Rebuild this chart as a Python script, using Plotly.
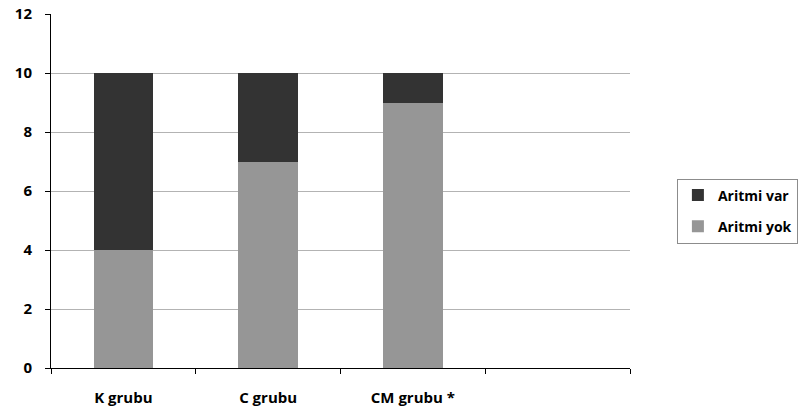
import plotly.graph_objects as go

categories = ["K grubu", "C grubu", "CM grubu *", " "]
aritmi_yok = [4, 7, 9, None]
aritmi_var = [6, 3, 1, None]
y_ticks = [0, 2, 4, 6, 8, 10, 12]

FAM = "Open Sans, Lato, sans-serif"
font = dict(family=FAM, size=14, color="black")

fig = go.Figure()
fig.add_trace(go.Bar(x=categories, y=aritmi_yok, name="<b>Aritmi yok</b>", legendgroup="a",
                     legendrank=2,
                     marker=dict(color="#969696", line=dict(width=0))))
fig.add_trace(go.Bar(x=categories, y=aritmi_var, name="<b>Aritmi var</b>", legendgroup="b",
                     legendrank=1,
                     marker=dict(color="#333333", line=dict(width=0))))

fig.update_layout(
    width=806, height=416,
    margin=dict(l=51, r=176, t=14, b=48, autoexpand=False),
    barmode="stack", bargap=0.59,
    plot_bgcolor="white", paper_bgcolor="white",
    font=font,
    showlegend=True,
    legend=dict(traceorder="grouped", x=1.081, xanchor="left", y=0.4435, yanchor="middle",
                bordercolor="#8c8c8c", borderwidth=1, bgcolor="white",
                font=dict(family=FAM, size=14),
                itemwidth=30, tracegroupgap=10),
)
fig.update_xaxes(
    type="category", categoryorder="array", categoryarray=categories,
    range=[-0.5, 3.5], tickson="boundaries", automargin=False,
    ticks="outside", ticklen=5, tickcolor="black",
    showline=True, linecolor="black", linewidth=1,
    showgrid=False, ticklabelstandoff=16,
    tickfont=dict(size=15),
    tickvals=categories, ticktext=["<b>%s</b>" % c for c in categories],
)
fig.update_yaxes(
    range=[0, 12], tickvals=y_ticks, ticktext=["<b>%d</b>" % v for v in y_ticks],
    ticks="outside", ticklen=5, tickcolor="black", automargin=False,
    showline=True, linecolor="black", linewidth=1,
    showgrid=True, gridcolor="#b3b3b3", gridwidth=1,
    tickfont=dict(size=15), ticklabeloverflow="allow",
    zeroline=False, ticklabelstandoff=10,
)
fig.write_html("out.html", config={"displayModeBar": False},
               post_script="document.body.style.margin='0';document.body.style.overflow='hidden';")
